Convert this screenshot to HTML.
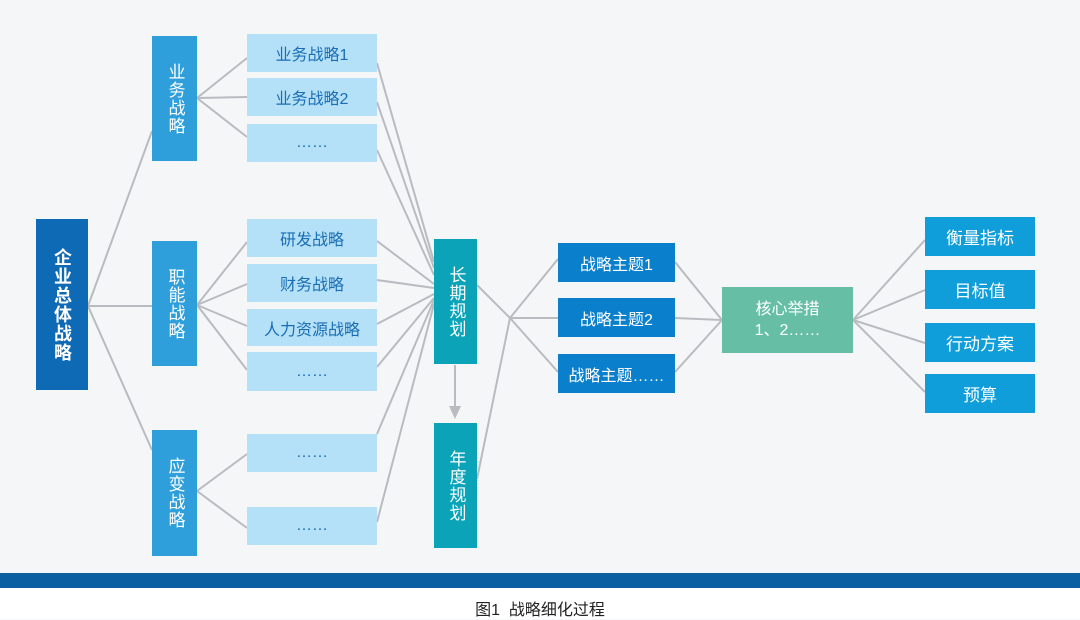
<!DOCTYPE html>
<html><head><meta charset="utf-8"><style>
body{margin:0;width:1080px;height:619px;background:#f5f6f7;position:relative;overflow:hidden;font-family:"Liberation Sans","Noto Sans CJK SC",sans-serif}
.b{position:absolute;display:flex;align-items:center;justify-content:center;text-align:center;box-sizing:border-box}
.l{background:#b4e1f7;color:#1a6db4;font-size:16px;left:247px;width:130px}
.v{color:#fff;font-size:17px;line-height:20px;writing-mode:vertical-rl;letter-spacing:1px}
.t{background:#0a7fcc;color:#fff;font-size:16px;left:558px;width:117px;height:39px}
.r{background:#0f9ed9;color:#fff;font-size:17px;left:925px;width:110px;height:39px}
</style></head><body>
<svg width="1080" height="619" style="position:absolute;left:0;top:0" stroke="#b8bcc0" stroke-width="2" fill="none">
<line x1="88" y1="306" x2="152" y2="131"/><line x1="88" y1="306" x2="152" y2="306"/><line x1="88" y1="306" x2="152" y2="450"/>
<line x1="197" y1="98" x2="247" y2="58"/><line x1="197" y1="98" x2="247" y2="97"/><line x1="197" y1="98" x2="247" y2="137"/>
<line x1="197" y1="305" x2="247" y2="242"/><line x1="197" y1="305" x2="247" y2="284"/><line x1="197" y1="305" x2="247" y2="326"/><line x1="197" y1="305" x2="247" y2="370"/>
<line x1="197" y1="491" x2="247" y2="454"/><line x1="197" y1="491" x2="247" y2="528"/>
<line x1="377" y1="63" x2="434" y2="262"/><line x1="377" y1="102" x2="434" y2="268"/><line x1="377" y1="150" x2="434" y2="275"/>
<line x1="377" y1="241" x2="434" y2="284"/><line x1="377" y1="280" x2="434" y2="288"/><line x1="377" y1="324" x2="434" y2="294"/><line x1="377" y1="367" x2="434" y2="298"/>
<line x1="377" y1="434" x2="434" y2="300"/><line x1="377" y1="522" x2="434" y2="304"/>
<line x1="477" y1="285" x2="510" y2="318"/><line x1="477" y1="479" x2="510" y2="318"/>
<line x1="510" y1="318" x2="558" y2="259"/><line x1="510" y1="318" x2="558" y2="318"/><line x1="510" y1="318" x2="558" y2="372"/>
<line x1="675" y1="262" x2="722" y2="320"/><line x1="675" y1="318" x2="722" y2="320"/><line x1="675" y1="372" x2="722" y2="320"/>
<line x1="853" y1="320" x2="925" y2="240"/><line x1="853" y1="320" x2="925" y2="290"/><line x1="853" y1="320" x2="925" y2="343"/><line x1="853" y1="320" x2="925" y2="392"/>
<line x1="455" y1="365" x2="455" y2="410"/>
<polygon points="449,406 461,406 455,419" fill="#b8bcc0" stroke="none"/>
</svg>
<div class="b v" style="left:36px;top:219px;width:52px;height:171px;background:#0e6ab4;font-weight:bold;font-size:18px;line-height:22px">企业总体战略</div>
<div class="b v" style="left:152px;top:36px;width:45px;height:125px;background:#2f9fdc">业务战略</div>
<div class="b v" style="left:152px;top:241px;width:45px;height:125px;background:#2f9fdc">职能战略</div>
<div class="b v" style="left:152px;top:430px;width:45px;height:126px;background:#2f9fdc">应变战略</div>
<div class="b l" style="top:34px;height:38px">业务战略1</div>
<div class="b l" style="top:78px;height:38px">业务战略2</div>
<div class="b l" style="top:124px;height:38px">……</div>
<div class="b l" style="top:219px;height:38px">研发战略</div>
<div class="b l" style="top:264px;height:38px">财务战略</div>
<div class="b l" style="top:309px;height:37px">人力资源战略</div>
<div class="b l" style="top:352px;height:39px">……</div>
<div class="b l" style="top:434px;height:38px">……</div>
<div class="b l" style="top:507px;height:38px">……</div>
<div class="b v" style="left:434px;top:239px;width:43px;height:125px;background:#0aa3b8">长期规划</div>
<div class="b v" style="left:434px;top:423px;width:43px;height:125px;background:#0aa3b8">年度规划</div>
<div class="b t" style="top:243px">战略主题1</div>
<div class="b t" style="top:298px">战略主题2</div>
<div class="b t" style="top:354px">战略主题……</div>
<div class="b" style="left:722px;top:287px;width:131px;height:66px;background:#66bfa5;color:#fff;font-size:16px;line-height:21px">核心举措<br>1、2……</div>
<div class="b r" style="top:217px">衡量指标</div>
<div class="b r" style="top:270px">目标值</div>
<div class="b r" style="top:323px">行动方案</div>
<div class="b r" style="top:374px">预算</div>
<div style="position:absolute;left:0;top:573px;width:1080px;height:15px;background:#0a5fa3"></div>
<div style="position:absolute;left:0;top:588px;width:1080px;height:31px;background:#fff"></div>
<div style="position:absolute;left:0;top:596px;width:1080px;text-align:center;font-size:16px;color:#222">图1&nbsp;&nbsp;战略细化过程</div>
</body></html>
